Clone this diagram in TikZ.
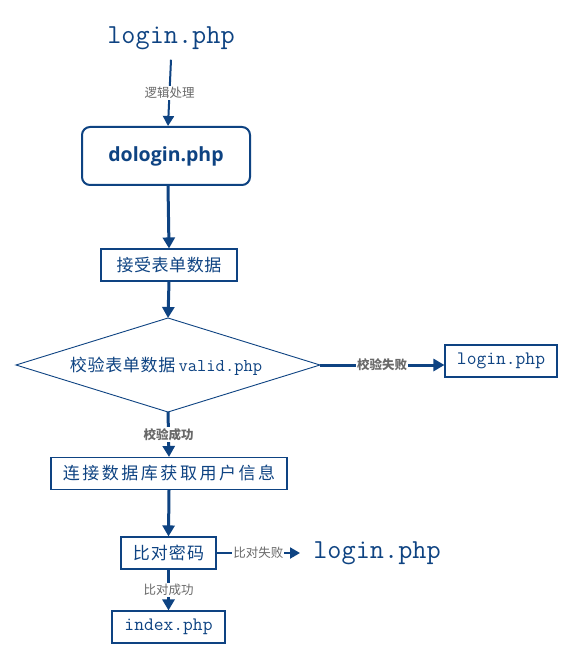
\documentclass[tikz,border=0pt]{standalone}
\usepackage{fontspec}
\newfontfamily\cjk{Noto Sans CJK SC}
\newfontfamily\bsans{Open Sans}
\usetikzlibrary{arrows.meta}
\definecolor{fb}{RGB}{14,67,130}
\definecolor{lg}{RGB}{105,105,105}
\begin{document}
\begin{tikzpicture}[x=1pt,y=-1pt,
 box/.style={draw=fb, line width=1.1pt, text=fb, font=\cjk\fontsize{17}{20}\selectfont, inner sep=0pt, minimum height=32pt},
 monobox/.style={box, font=\ttfamily\fontsize{19}{22}\selectfont},
 flow/.style={draw=fb, line width=3pt, -{Triangle[width=12pt,length=11pt]}},
 thinflow/.style={draw=fb, line width=2pt, -{Triangle[width=11pt,length=10pt]}},
 lbl/.style={fill=white, text=lg, font=\cjk\fontsize{12.5}{14}\selectfont, inner sep=1pt},
 lblb/.style={lbl, font=\cjk\bfseries\fontsize{12.5}{14}\selectfont},
 big/.style={text=fb, font=\ttfamily\fontsize{27.5}{30}\selectfont, inner sep=0pt}]
\useasboundingbox (0,0) rectangle (574,660);
\fill[white] (0,0) rectangle (574,660);

\node[big] (top) at (171,38) {login.php};
\node[draw=fb, line width=2pt, rounded corners=8pt, minimum width=168pt, minimum height=58pt, text=fb, font=\bsans\bfseries\fontsize{19.5}{22}\selectfont] (dologin) at (166,156) {dologin.php};
\node[box, minimum width=136pt, font=\cjk\fontsize{17}{20}\selectfont\addfontfeature{LetterSpace=3}] (recv) at (169,265) {接受表单数据};

\coordinate (dT) at (168,318);
\coordinate (dR) at (320,365);
\coordinate (dB) at (168,412);
\coordinate (dL) at (16,365);
\draw[fb, line width=0.9pt] (dL) -- (dT) -- (dR) -- (dB) -- cycle;
\node[text=fb, inner sep=0pt] (valid) at (166,366) {{\cjk\fontsize{17}{20}\selectfont\addfontfeature{LetterSpace=4}校验表单数据} {\ttfamily\fontsize{18}{20}\selectfont valid.php}};

\node[monobox, minimum width=112pt] (fail1) at (501,361) {login.php};
\node[box, minimum width=236pt, font=\cjk\fontsize{17}{20}\selectfont\addfontfeature{LetterSpace=15}] (db) at (169,473.5) {连接数据库获取用户信息};
\node[box, minimum width=95pt, font=\cjk\fontsize{17}{20}\selectfont\addfontfeature{LetterSpace=6}] (cmp) at (168.5,553) {比对密码};
\node[big] (fail2) at (377,553) {login.php};
\coordinate (f2end) at (300,553);
\node[monobox, minimum width=113pt] (index) at (168.5,627) {index.php};

\draw[thinflow] ([yshift=-10pt]top.south) -- node[lbl]{逻辑处理} ([xshift=2pt]dologin.north);
\draw[flow] ([xshift=2pt]dologin.south) -- (recv.north);
\draw[flow] (recv.south) -- (dT);
\draw[flow] (dR) -- node[lblb]{校验失败} (dR -| fail1.west);
\draw[flow] (dB) -- node[lblb]{校验成功} (db.north);
\draw[flow] (db.south) -- (cmp.north);
\draw[thinflow] (cmp.east) -- node[lbl]{比对失败} (f2end);
\draw[flow] (cmp.south) -- node[lbl]{比对成功} (index.north);
\end{tikzpicture}
\end{document}
